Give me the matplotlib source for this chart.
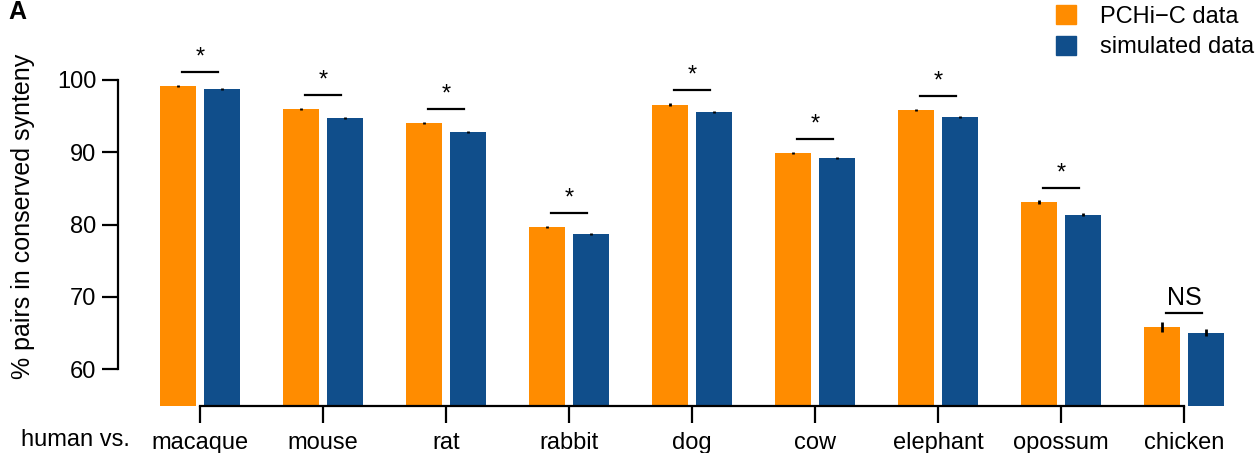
import numpy as np
import matplotlib
matplotlib.use('Agg')
from matplotlib import pyplot as plt
from matplotlib.patches import Patch

plt.rcParams['font.family'] = ['Liberation Sans', 'DejaVu Sans']

#--- data

species = ['macaque', 'mouse', 'rat', 'rabbit', 'dog', 'cow', 'elephant', 'opossum', 'chicken']
pchic = [99.15, 96.0, 94.05, 79.65, 96.6, 89.9, 95.85, 83.1, 65.85]
pchic_err = [0.15, 0.15, 0.18, 0.2, 0.15, 0.2, 0.15, 0.25, 0.7]
simulated = [98.75, 94.75, 92.85, 78.65, 95.55, 89.15, 94.9, 81.35, 65.05]
simulated_err = [0.12, 0.12, 0.15, 0.15, 0.12, 0.15, 0.12, 0.2, 0.45]
signif = ['*', '*', '*', '*', '*', '*', '*', '*', 'NS']

orange = '#FF8C00'
blue = '#104E8B'

#--- plot

W, H = 1260, 453
fig = plt.figure(figsize=(W / 100, H / 100), dpi=100)

# axes placed in pixels: group i centre at 200 + 123*i
px_left, px_right, px_top, px_bot = 118, 1245, 40, 406
ax = fig.add_axes([px_left / W, 1 - px_bot / H, (px_right - px_left) / W, (px_bot - px_top) / H])

x = np.arange(len(species))
off = 0.179
bw = 0.30
ax.bar(x - off, pchic, width=bw, color=orange, yerr=pchic_err,
       error_kw=dict(elinewidth=2, capsize=0, ecolor='black'))
ax.bar(x + off, simulated, width=bw, color=blue, yerr=simulated_err,
       error_kw=dict(elinewidth=2, capsize=0, ecolor='black'))

for i, s in enumerate(signif):
    top = max(pchic[i], simulated[i])
    ly = top + 1.95
    ax.plot([i - 0.145, i + 0.145], [ly, ly], color='black', lw=1.6, clip_on=False)
    if s == '*':
        ax.text(i, ly + 0.5, s, ha='center', va='bottom', fontsize=17)
    else:
        ax.text(i, ly + 0.3, s, ha='center', va='bottom', fontsize=18)

ax.set_xlim((px_left - 200) / 123, (px_right - 200) / 123)
y_per_px = 10 / 72.25
ax.set_ylim(60 - (px_bot - 369) * y_per_px, 100 + (80 - px_top) * y_per_px)

for side in ['top', 'right']:
    ax.spines[side].set_visible(False)
ax.spines['left'].set_bounds(60, 100)
ax.spines['bottom'].set_bounds(0, len(species) - 1)
ax.spines['left'].set_linewidth(1.6)
ax.spines['bottom'].set_linewidth(1.6)

ax.set_yticks([60, 70, 80, 90, 100])
ax.set_xticks(x)
ax.set_xticklabels(species)
ax.tick_params(axis='y', direction='out', length=11.5, width=1.6, labelsize=17, pad=4)
ax.tick_params(axis='x', direction='out', length=12.5, width=1.6, labelsize=17, pad=6)
fig.text(23 / W, 1 - 216 / H, '% pairs in conserved synteny', rotation=90,
         ha='center', va='center', fontsize=18)

fig.text(75 / W, 1 - 440 / H, 'human vs.', ha='center', va='center', fontsize=17)
fig.text(8 / W, 1 - 19 / H, 'A', ha='left', va='baseline', fontsize=18, fontweight='bold')

handles = [Patch(color=orange, label='PCHi\u2212C data'), Patch(color=blue, label='simulated data')]
fig.legend(handles=handles, loc='upper left', bbox_to_anchor=(1056 / W, 1 - 5 / H),
           frameon=False, fontsize=17, handlelength=0.85, handleheight=0.85,
           handletextpad=1.0, labelspacing=0.35, borderpad=0, borderaxespad=0)

plt.savefig('out.png', dpi=100)
plt.close()
